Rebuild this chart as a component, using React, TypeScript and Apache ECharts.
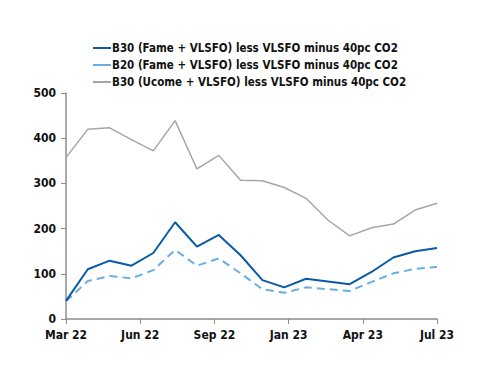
import React, { useEffect, useRef } from "react";
import * as echarts from "echarts";

const seriesNames = [
  "B30 (Fame + VLSFO) less VLSFO minus 40pc CO2",
  "B20 (Fame + VLSFO) less VLSFO minus 40pc CO2",
  "B30 (Ucome + VLSFO) less VLSFO minus 40pc CO2",
];
const tickLabels = ["Mar 22", "Jun 22", "Sep 22", "Jan 23", "Apr 23", "Jul 23"];
const b30Fame = [40, 110, 129, 118, 146, 214, 160, 186, 141, 86, 70, 89, 83, 77, 104, 136, 150, 157];
const b20Fame = [39, 84, 95, 90, 108, 153, 118, 134, 101, 66, 58, 70, 66, 62, 82, 101, 111, 115];
const b30Ucome = [357, 420, 423, 397, 372, 439, 332, 362, 307, 306, 291, 267, 219, 184, 202, 210, 241, 256];

const font = "'DejaVu Sans Condensed', 'DejaVu Sans'";

export default function App() {
  const ref = useRef<HTMLDivElement>(null);
  useEffect(() => {
    const chart = echarts.init(ref.current!, null, { renderer: "svg" });
    const n = b30Fame.length;
    const span = n - 1;
    const step = span / (tickLabels.length - 1);
    const toPts = (arr: number[]) => arr.map((v, i) => [i, v]);
    chart.setOption({
      animation: false,
      backgroundColor: "#ffffff",
      legend: {
        orient: "vertical",
        left: 88,
        top: 37,
        itemWidth: 18,
        itemHeight: 10,
        itemGap: 5,
        icon: "path://M0,4 L18,4 L18,6 L0,6 Z",
        textStyle: { fontFamily: font, fontSize: 11.5, color: "#111", fontWeight: 600, padding: [0, 0, 0, -4] },
        data: seriesNames,
      },
      grid: { left: 66, right: 63, top: 93, bottom: 67 },
      xAxis: {
        type: "value",
        min: 0,
        max: span,
        interval: step,
        axisLine: { lineStyle: { color: "#8c8c8c", width: 1.5 } },
        axisTick: { show: true, length: 5, lineStyle: { color: "#8c8c8c" } },
        splitLine: { show: false },
        axisLabel: {
          fontFamily: font,
          fontSize: 12,
          fontWeight: 600,
          color: "#111",
          margin: 10,
          formatter: (v: number) => tickLabels[Math.round(v / step)] ?? "",
        },
      },
      yAxis: {
        type: "value",
        min: 0,
        max: 500,
        interval: 100,
        axisLine: { show: true, lineStyle: { color: "#8c8c8c", width: 1.5 } },
        axisTick: { show: true, length: 5, lineStyle: { color: "#8c8c8c" } },
        splitLine: { show: false },
        axisLabel: { fontFamily: font, fontSize: 12, fontWeight: 600, color: "#111", margin: 10 },
      },
      series: [
        {
          name: seriesNames[0],
          type: "line",
          data: toPts(b30Fame),
          symbol: "none",
          itemStyle: { color: "#0b5aa6" },
          lineStyle: { color: "#0b5aa6", width: 2 },
          z: 3,
        },
        {
          name: seriesNames[1],
          type: "line",
          data: toPts(b20Fame),
          symbol: "none",
          itemStyle: { color: "#6aaee6" },
          lineStyle: { color: "#6aaee6", width: 2, type: [8, 5] },
          z: 2,
        },
        {
          name: seriesNames[2],
          type: "line",
          data: toPts(b30Ucome),
          symbol: "none",
          itemStyle: { color: "#a6a6a6" },
          lineStyle: { color: "#a6a6a6", width: 1.5 },
          z: 1,
        },
      ],
    });
    return () => chart.dispose();
  }, []);
  return <div ref={ref} style={{ position: "absolute", left: 0, top: 0, width: 500, height: 386 }} />;
}
